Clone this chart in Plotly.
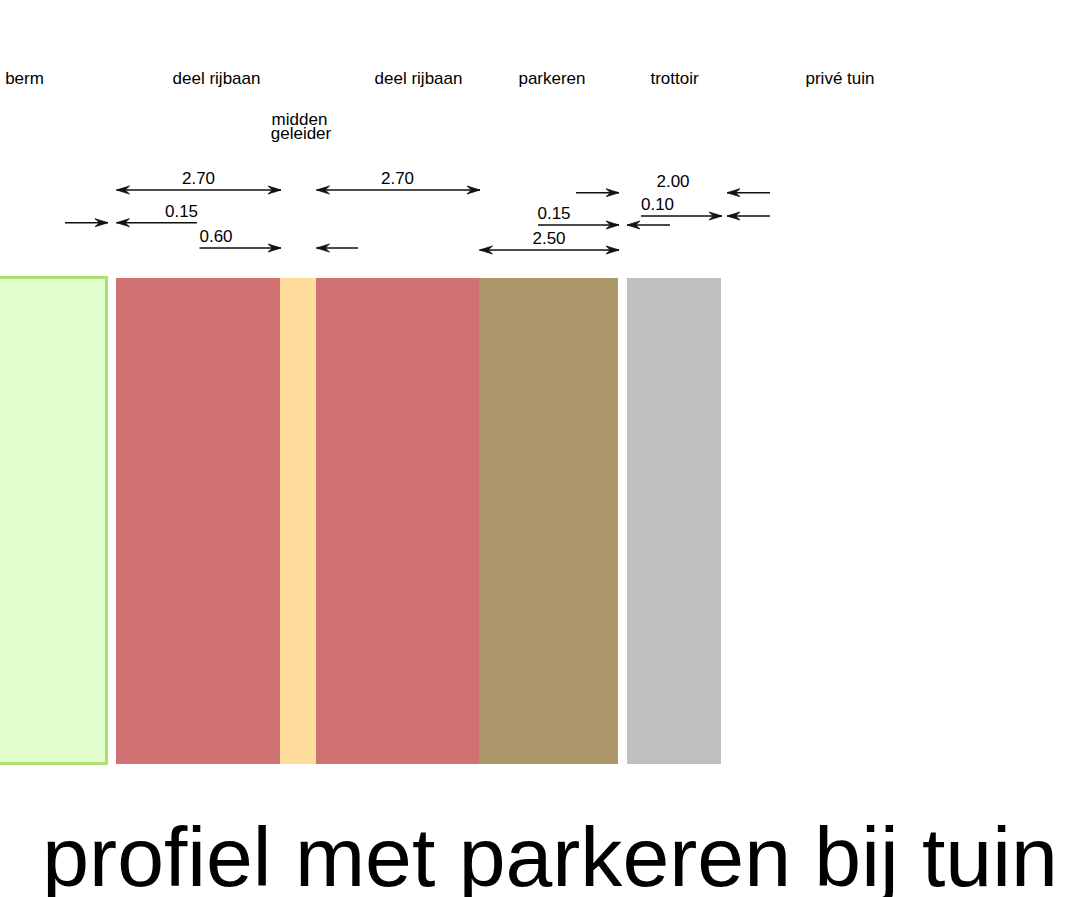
import plotly.graph_objects as go

W, H = 1082, 897

# road-profile bands (profile units equal one screen unit on the axes)
band_names = ["berm", "deel rijbaan", "middengeleider", "deel rijbaan", "parkeren", "trottoir"]
band_left = [-1, 116, 280, 316, 479, 627]
band_right = [107, 280, 316, 479, 618, 721]
band_top = 278
band_bottom = 764
band_fill = ["#e0ffcc", "#d07274", "#fedc9c", "#d07274", "#ac976b", "#bfbfbf"]
band_edge = ["#aee070", "#d07274", "#fedc9c", "#d07274", "#ac976b", "#bfbfbf"]
band_edge_w = [3, 0, 0, 0, 0, 0]

# dimension arrows: start, end (head at end), row, both ends headed?
arrow_x0 = [281, 316.5, 65, 197, 199.5, 358, 576, 770, 641, 770, 538, 670, 479.5]
arrow_x1 = [116.5, 480, 108, 116.5, 281, 316.5, 619, 727, 722, 727, 619, 627, 619]
arrow_y = [190, 190, 222.7, 222.7, 248, 248, 192.7, 192.7, 216, 216, 225, 225, 250]
arrow_both = [True, True, False, False, False, False, False, False, False, False, False, False, True]

dim_labels = ["2.70", "2.70", "0.15", "0.60", "2.00", "0.10", "0.15", "2.50"]
dim_x = [198.5, 397.5, 181.5, 216, 673, 657.5, 554, 549]
dim_y = [179.5, 179.5, 213, 237.5, 182.5, 205.5, 214.5, 239.5]

name_labels = ["berm", "deel rijbaan", "deel rijbaan", "parkeren", "trottoir", "privé tuin", "midden", "geleider"]
name_x = [24.5, 216.5, 418.5, 552, 674.5, 840, 299.5, 301]
name_y = [80, 80, 80, 80, 80, 80, 121, 135]

title_text = "profiel met parkeren bij tuin"

fig = go.Figure()

centers = [(a + b) / 2 for a, b in zip(band_left, band_right)]
widths = [b - a for a, b in zip(band_left, band_right)]
fig.add_trace(go.Bar(
    x=centers, y=[band_bottom - band_top] * len(centers), base=band_top, width=widths,
    marker=dict(color=band_fill, line=dict(color=band_edge, width=band_edge_w)),
    text=band_names, textposition="none", hoverinfo="text", showlegend=False,
))

# shafts
sx, sy = [], []
for a, b, y in zip(arrow_x0, arrow_x1, arrow_y):
    sx += [a, b, None]
    sy += [y, y, None]
fig.add_trace(go.Scatter(x=sx, y=sy, mode="lines", line=dict(color="#111111", width=1.5),
                         hoverinfo="skip", showlegend=False))

# stealth heads built from the arrow ends
HEAD_L, HEAD_N, HEAD_H = 13, 8.5, 4
hx, hy = [], []
def head(tip, direction, y):
    hx.extend([tip, tip - direction * HEAD_L, tip - direction * HEAD_N, tip - direction * HEAD_L, tip, None])
    hy.extend([y, y - HEAD_H, y, y + HEAD_H, y, None])
for a, b, y, both in zip(arrow_x0, arrow_x1, arrow_y, arrow_both):
    d = 1 if b > a else -1
    head(b, d, y)
    if both:
        head(a, -d, y)
fig.add_trace(go.Scatter(x=hx, y=hy, mode="lines", fill="toself", fillcolor="#111111",
                         line=dict(color="#111111", width=0.8), hoverinfo="skip", showlegend=False))

fig.add_trace(go.Scatter(x=dim_x, y=dim_y, mode="text", text=dim_labels, textposition="middle center",
                         textfont=dict(family="Liberation Sans", size=17, color="#000000"),
                         hoverinfo="skip", showlegend=False))
fig.add_trace(go.Scatter(x=name_x, y=name_y, mode="text", text=name_labels, textposition="middle center",
                         textfont=dict(family="Liberation Sans", size=17, color="#000000"),
                         hoverinfo="skip", showlegend=False))

fig.update_layout(
    width=W, height=H,
    margin=dict(l=0, r=0, t=0, b=0),
    paper_bgcolor="#ffffff", plot_bgcolor="#ffffff",
    bargap=0,
    title=dict(text=title_text, x=550 / W, xanchor="center", xref="paper",
               y=1 - 857 / H, yanchor="middle", yref="container",
               font=dict(family="Liberation Sans", size=84.2, color="#000000")),
    xaxis=dict(range=[0, W], visible=False, fixedrange=True),
    yaxis=dict(range=[H, 0], visible=False, fixedrange=True),
)
fig.write_html("out.html", config=dict(displayModeBar=False),
               post_script="document.body.style.margin='0';document.body.style.overflow='hidden';")
